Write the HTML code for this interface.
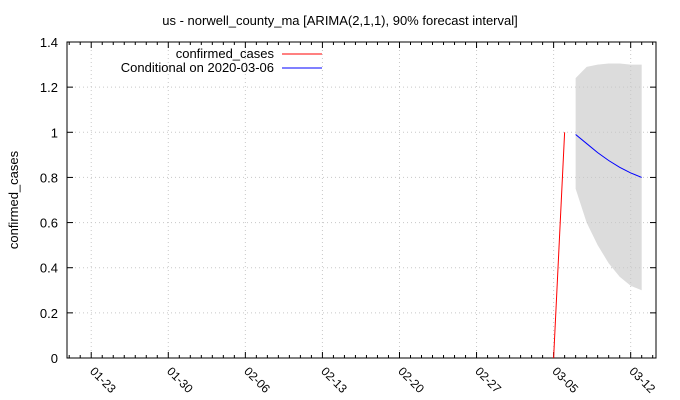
<!DOCTYPE html>
<html><head><meta charset="utf-8"><style>
body{margin:0;background:#fff;}
svg{display:block;font-family:"Liberation Sans",sans-serif;}
</style></head><body>
<svg id="c" width="680" height="400"></svg>
<script>
const xTickLabels=["01-23","01-30","02-06","02-13","02-20","02-27","03-05","03-12"];
const xTickDays=[0,7,14,21,28,35,42,49];
const yTicks=[0,0.2,0.4,0.6,0.8,1,1.2,1.4];
const actualDays=[42,43];
const actualValues=[0,1];
const fcDays=[44,45,46,47,48,49,50];
const fcMean=[0.99,0.95,0.91,0.875,0.845,0.82,0.80];
const fcUpper=[1.24,1.29,1.30,1.305,1.305,1.30,1.30];
const fcLower=[0.75,0.60,0.50,0.42,0.36,0.32,0.30];

const L=67,R=656,T=42,B=358,xmin=-2.2,xmax=51.3,ymin=0,ymax=1.4;
const X=d=>L+(d-xmin)/(xmax-xmin)*(R-L);
const Y=v=>B-(v-ymin)/(ymax-ymin)*(B-T);
const svg=document.getElementById('c');
const NS='http://www.w3.org/2000/svg';
function mk(tag,attrs,name,parent){const e=document.createElementNS(NS,tag);for(const k in attrs)e.setAttribute(k,attrs[k]);


(parent||svg).appendChild(e);return e;}
// band
let pts=fcDays.map((d,i)=>X(d)+','+Y(fcUpper[i]));
for(let i=fcDays.length-1;i>=0;i--)pts.push(X(fcDays[i])+','+Y(fcLower[i]));
mk('polygon',{points:pts.join(' '),fill:'#dcdcdc'},'forecast-interval');
// grid
yTicks.forEach(v=>{if(v>0&&v<1.4)mk('line',{x1:L,x2:R,y1:Y(v),y2:Y(v),stroke:'#c8c8c8','stroke-dasharray':'1,3'},'y-grid-line');});
xTickDays.forEach(d=>mk('line',{x1:X(d),x2:X(d),y1:T,y2:B,stroke:'#c8c8c8','stroke-dasharray':'1,3'},'x-grid-line'));
// frame
mk('rect',{x:L,y:T,width:R-L,height:B-T,fill:'none',stroke:'#000','stroke-width':1},'plot-frame');
// y ticks
yTicks.forEach(v=>{const y=Y(v);
mk('line',{x1:L,x2:L+6,y1:y,y2:y,stroke:'#000'},'y-tick');
mk('line',{x1:R-6,x2:R,y1:y,y2:y,stroke:'#000'},'y-tick-right');
const t=mk('text',{x:L-9,y:y+5,'text-anchor':'end','font-size':13},'y-tick-label');t.textContent=String(v);});
// x minor ticks
for(let d=-2;d<=51;d++){const x=X(d);const maj=xTickDays.includes(d);const h=maj?6:3;
mk('line',{x1:x,x2:x,y1:B,y2:B-h,stroke:'#000'},'x-tick');
mk('line',{x1:x,x2:x,y1:T,y2:T+h,stroke:'#000'},'x-tick-top');}
xTickDays.forEach((d,i)=>{const x=X(d);const t=mk('text',{x:x-2,y:B+14,'font-size':12,transform:`rotate(45 ${x-2} ${B+14})`},'x-tick-label');t.textContent=xTickLabels[i];});
// series
mk('polyline',{points:actualDays.map((d,i)=>X(d)+','+Y(actualValues[i])).join(' '),fill:'none',stroke:'#ff0000','stroke-width':1},'confirmed-cases-line');
mk('polyline',{points:fcDays.map((d,i)=>X(d)+','+Y(fcMean[i])).join(' '),fill:'none',stroke:'#0000ff','stroke-width':1},'forecast-line');
// labels
let t=mk('text',{x:340,y:25,'text-anchor':'middle','font-size':13},'chart-title');t.textContent='us - norwell_county_ma [ARIMA(2,1,1), 90% forecast interval]';
t=mk('text',{x:18,y:200,'text-anchor':'middle','font-size':13,transform:'rotate(-90 18 200)'},'y-axis-title');t.textContent='confirmed_cases';
t=mk('text',{x:274,y:58,'text-anchor':'end','font-size':13},'legend-label-confirmed');t.textContent='confirmed_cases';
mk('line',{x1:282,x2:322,y1:54,y2:54,stroke:'#ff0000'},'legend-line-confirmed');
t=mk('text',{x:274,y:72,'text-anchor':'end','font-size':13},'legend-label-forecast');t.textContent='Conditional on 2020-03-06';
mk('line',{x1:282,x2:322,y1:68,y2:68,stroke:'#0000ff'},'legend-line-forecast');
</script>
</body></html>
